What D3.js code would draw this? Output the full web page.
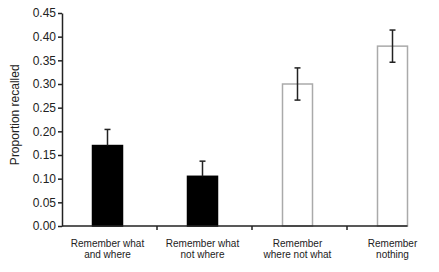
<!DOCTYPE html>
<meta charset="utf-8">
<head>
  <title>Proportion recalled</title>
  <style>
  body { margin: 0; background: #fff; }
  text { font-family: "Liberation Sans", Arial, sans-serif; fill: #222; }
  </style>
</head>
<body>
<svg width="439" height="272"></svg>
<script src="https://cdn.jsdelivr.net/npm/d3@7"></script>
<script>
var categories = [
  ["Remember what", "and where"],
  ["Remember what", "not where"],
  ["Remember", "where not what"],
  ["Remember", "nothing"]
];
var means = [0.17, 0.105, 0.30, 0.38];
var errors = [0.034, 0.032, 0.034, 0.034];
var filled = [true, true, false, false];
var yTicks = [0, 0.05, 0.10, 0.15, 0.20, 0.25, 0.30, 0.35, 0.40, 0.45];

var svg = d3.select("svg");
var idx = d3.range(categories.length);

var x = d3.scaleBand().domain(idx).range([60, 440]);
var y = d3.scaleLinear().domain([0, 0.45]).range([226, 13]);
var barW = 30;
var cx = function(i) { return x(i) + x.bandwidth() / 2; };

// y axis
var yAxis = svg.append("g")
    .attr("transform", "translate(62,0)")
    .call(d3.axisLeft(y).tickValues(yTicks).tickFormat(d3.format(".2f")).tickSize(4).tickSizeOuter(0));
yAxis.select(".domain").attr("stroke", "#222").attr("stroke-width", 1.5);
yAxis.selectAll(".tick line").attr("stroke", "#222").attr("stroke-width", 1.5);
yAxis.selectAll(".tick text").attr("x", -6).style("font-size", "12px").attr("fill", "#222");

svg.append("text")
    .attr("transform", "translate(19," + y(0.235) + ") rotate(-90)")
    .attr("text-anchor", "middle")
    .style("font-size", "12px")
    .text("Proportion recalled");

// bars
svg.selectAll(".bar")
  .data(idx)
  .enter().append("rect")
    .attr("x", function(i) { return cx(i) - barW / 2; })
    .attr("y", function(i) { return y(means[i]); })
    .attr("width", barW)
    .attr("height", function(i) { return y(0) - y(means[i]); })
    .attr("fill", function(i) { return filled[i] ? "#000" : "#fff"; })
    .attr("stroke", function(i) { return filled[i] ? "#000" : "#aaa"; })
    .attr("stroke-width", 1.5);

// error bars
var eb = svg.selectAll(".err").data(idx).enter().append("g");
eb.append("line")
    .attr("x1", cx).attr("x2", cx)
    .attr("y1", function(i) { return filled[i] ? y(means[i]) : y(means[i] - errors[i]); })
    .attr("y2", function(i) { return y(means[i] + errors[i]); })
    .attr("stroke", "#222").attr("stroke-width", 1.5);
eb.append("line")
    .attr("x1", function(i) { return cx(i) - 3; }).attr("x2", function(i) { return cx(i) + 3; })
    .attr("y1", function(i) { return y(means[i] + errors[i]); })
    .attr("y2", function(i) { return y(means[i] + errors[i]); })
    .attr("stroke", "#222").attr("stroke-width", 1.5);
eb.filter(function(i) { return !filled[i]; }).append("line")
    .attr("x1", function(i) { return cx(i) - 3; }).attr("x2", function(i) { return cx(i) + 3; })
    .attr("y1", function(i) { return y(means[i] - errors[i]); })
    .attr("y2", function(i) { return y(means[i] - errors[i]); })
    .attr("stroke", "#222").attr("stroke-width", 1.5);

// x axis
var xEnd = cx(categories.length - 1) + barW / 2;
svg.append("line")
    .attr("x1", 62).attr("x2", xEnd)
    .attr("y1", y(0)).attr("y2", y(0))
    .attr("stroke", "#222").attr("stroke-width", 1.5);
svg.selectAll(".sep")
  .data(idx.slice(1))
  .enter().append("line")
    .attr("x1", function(i) { return x(i) + 2; }).attr("x2", function(i) { return x(i) + 2; })
    .attr("y1", y(0)).attr("y2", y(0) + 4)
    .attr("stroke", "#222").attr("stroke-width", 1.5);

var lab = svg.selectAll(".xlab")
  .data(idx)
  .enter().append("text")
    .attr("text-anchor", "middle")
    .style("font-size", "10px");
lab.append("tspan")
    .attr("x", cx).attr("y", 247)
    .text(function(i) { return categories[i][0]; });
lab.append("tspan")
    .attr("x", cx).attr("y", 258)
    .text(function(i) { return categories[i][1]; });
</script>
</body>
